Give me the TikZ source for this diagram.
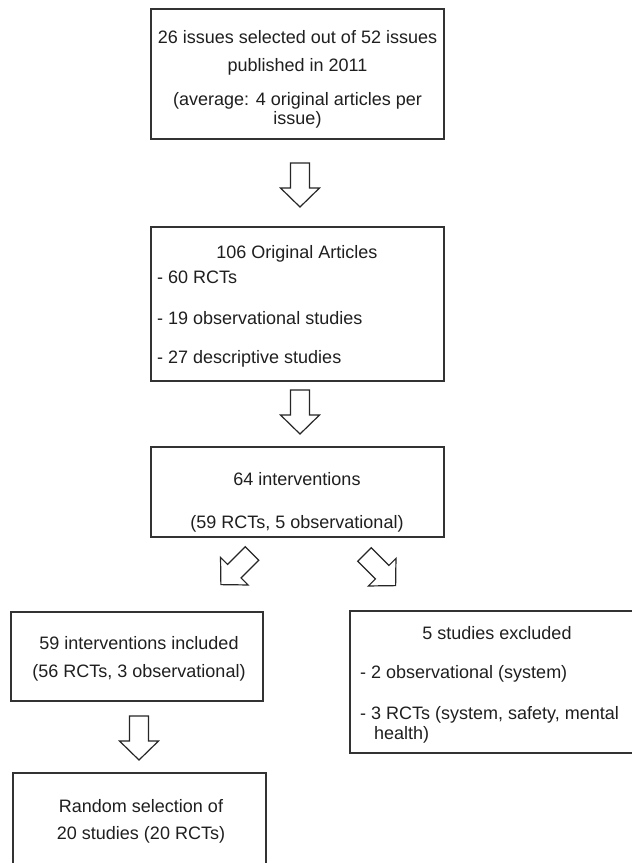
\documentclass[tikz,border=0pt]{standalone}
\usepackage{fontspec}
\setmainfont{Liberation Sans}
\begin{document}
\begin{tikzpicture}[x=1pt,y=-1pt,
  box/.style={draw=black!80, line width=1.3pt, inner sep=0pt},
  txt/.style={inner sep=0pt, font=\fontsize{18}{21}\selectfont, text=black!88},
  arrowline/.style={draw=black!85, line width=1.2pt, fill=white, line join=miter},
  blockarrow/.pic={\path[arrowline] (-9.5,0) -- (-9.5,25) -- (-19.5,25) -- (0,44) -- (19.5,25) -- (9.5,25) -- (9.5,0) -- cycle;}
]
\useasboundingbox (0,0) rectangle (632,863);
\clip (0,0) rectangle (632,863);
\fill[white] (0,0) rectangle (632,863);

% boxes
\node[box, minimum width=293, minimum height=130] (b1) at (297.5,74) {};
\node[box, minimum width=293, minimum height=154] (b2) at (297.5,304) {};
\node[box, minimum width=293, minimum height=90] (b3) at (297.5,492) {};
\node[box, minimum width=252, minimum height=89] (b4) at (137,656.5) {};
\node[box, minimum width=253, minimum height=130] (b5) at (139.5,838) {};
\node[box, minimum width=310, minimum height=142] (b6) at (505,682) {};

% texts box 1
\node[txt, anchor=base] (t11) at (297.5,43) {26 issues selected out of 52 issues};
\node[txt, anchor=base] (t12) at (297.5,71) {published in 2011};
\node[txt, anchor=base] (t13) at (297.5,105) {(average: 4 original articles per};
\node[txt, anchor=base] (t14) at (297.5,124) {issue)};

% texts box 2
\node[txt, anchor=base] (t21) at (297,258) {106 Original Articles};
\node[txt, anchor=base west] (t22) at (157,283) {- 60 RCTs};
\node[txt, anchor=base west] (t23) at (157,324) {- 19 observational studies};
\node[txt, anchor=base west] (t24) at (157,363) {- 27 descriptive studies};

% texts box 3
\node[txt, anchor=base] (t31) at (297,485) {64 interventions};
\node[txt, anchor=base] (t32) at (297,528) {(59 RCTs, 5 observational)};

% texts box 4
\node[txt, anchor=base] (t41) at (139,649) {59 interventions included};
\node[txt, anchor=base] (t42) at (139,677) {(56 RCTs, 3 observational)};

% texts box 5
\node[txt, anchor=base] (t51) at (141,812) {Random selection of};
\node[txt, anchor=base] (t52) at (141,839) {20 studies (20 RCTs)};

% texts box 6
\node[txt, anchor=base] (t61) at (497,639) {5 studies excluded};
\node[txt, anchor=base west] (t62) at (360,678) {- 2 observational (system)};
\node[txt, anchor=base west] (t63) at (360,719) {- 3 RCTs (system, safety, mental};
\node[txt, anchor=base west] (t64) at (374,739) {health)};

% block arrows
\coordinate (a1) at (300,163);
\coordinate (a2) at (300,390);
\coordinate (a3) at (139,716);
\coordinate (a4) at (252,553.5);
\coordinate (a5) at (364.5,554.5);
\pic at (a1) {blockarrow};
\pic at (a2) {blockarrow};
\pic at (a3) {blockarrow};
\pic[rotate=-45] at (a4) {blockarrow};
\pic[rotate=45] at (a5) {blockarrow};
\end{tikzpicture}
\end{document}
